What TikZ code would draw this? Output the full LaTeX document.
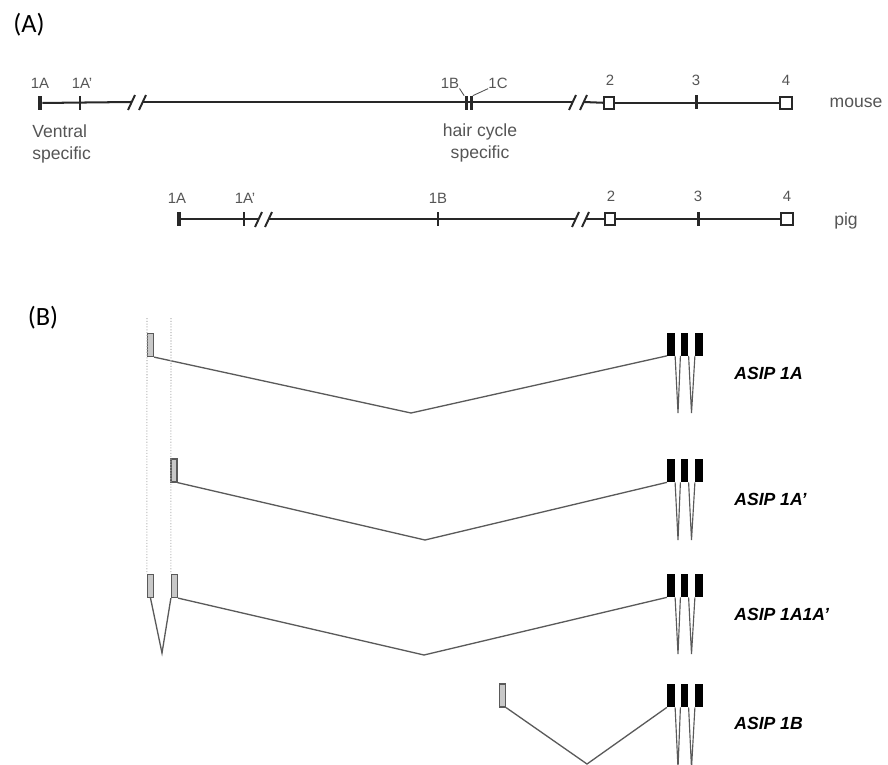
\documentclass[tikz,border=0pt]{standalone}
\usepackage{fontspec}
\setmainfont{Liberation Sans}
\newfontfamily\calibri{Carlito}
\usepackage{tikz}
\usetikzlibrary{positioning}
\definecolor{trackgray} {RGB}{ 40,  40,  40}
\definecolor{labelgray} {RGB}{ 85,  85,  85}
\definecolor{splicegray}{RGB}{ 90,  90,  90}
\definecolor{exonfill}  {RGB}{200, 200, 200}
\definecolor{dotgray}   {RGB}{185, 185, 185}

\begin{document}
\begin{tikzpicture}[x=0.02cm,y=-0.02cm,
  every node/.style={inner sep=0pt},
  panel/.style={font=\calibri\fontsize{15}{18}\selectfont},
  num/.style={text=labelgray,font=\fontsize{8.5}{10}\selectfont},
  note/.style={text=labelgray,font=\fontsize{10}{12.5}\selectfont,align=center},
  track/.style={draw=trackgray,line width=1.15pt},
  brk/.style={draw=trackgray,line width=1.1pt},
  tickx/.style={fill=trackgray,minimum width=0.045cm,minimum height=0.28cm},
  thickx/.style={fill=trackgray,minimum width=0.08cm,minimum height=0.28cm},
  boxx/.style={draw=trackgray,fill=white,line width=1.2pt,
               minimum width=0.19cm,minimum height=0.25cm},
  gexon/.style={draw=splicegray,fill=exonfill,line width=0.7pt,
                minimum width=0.12cm,minimum height=0.46cm},
  bexon/.style={fill=black,minimum width=0.15cm,minimum height=0.46cm},
  spl/.style={draw=splicegray,line width=0.75pt},
  vee/.style={draw=splicegray,line width=0.65pt},
  iso/.style={font=\bfseries\itshape\fontsize{10}{12}\selectfont,anchor=west},
]
\useasboundingbox (0,0) rectangle (888,764);
\clip (0,0) rectangle (888,764);

%% ---------------- (A) genomic structure ----------------
\node[panel] (pA) at (29,25) {(A)};

%% mouse track
\node[thickx] (m1A)  at (40,103) {};
\node[tickx]  (m1Ap) at (80,103) {};
\coordinate   (mb1a) at (131,102);
\coordinate   (mb1b) at (143,102);
\node[thickx,minimum width=0.06cm] (m1B) at (466,103) {};
\node[thickx,minimum width=0.06cm] (m1C) at (471,103) {};
\coordinate   (mb2a) at (572,102);
\coordinate   (mb2b) at (584,102);
\node[boxx]   (m2)   at (609,103) {};
\node[tickx,minimum width=0.06cm] (m3) at (696,102) {};
\node[boxx,minimum width=0.24cm,minimum height=0.25cm] (m4) at (786,103) {};

\draw[track] (m1A) -- (mb1a);
\draw[track] (mb1b) -- (mb2a);
\draw[track] (mb2b) -- (m2);
\draw[track] (m2) -- (m4);
\draw[brk] (mb1a) ++(-3,8) -- ++(7,-15);
\draw[brk] (mb1b) ++(-4,8) -- ++(7,-15);
\draw[brk] (mb2a) ++(-3,8) -- ++(7,-15);
\draw[brk] (mb2b) ++(-4,8) -- ++(7,-15);

\node[num] (lm1A)  at (40,83)  {1A};
\node[num] (lm1Ap) at (82,83)  {1A'};
\node[num] (lm1B)  at (450,83) {1B};
\node[num] (lm1C)  at (498,83) {1C};
\node[num] (lm2)   at (610,80) {2};
\node[num] (lm3)   at (696,80) {3};
\node[num] (lm4)   at (786,80) {4};
\draw[labelgray,line width=0.5pt] (lm1B.south east) -- (m1B.north west);
\draw[labelgray,line width=0.5pt] (lm1C.south west) -- (m1C.north east);

\node[note,align=left,anchor=west] (ventral) at (32,144) {Ventral\\specific};
\node[note] (hair) at (480,143) {hair cycle\\specific};
\node[note] (mouse) at (856,103) {mouse};

%% pig track
\node[thickx] (p1A)  at (179,219) {};
\node[tickx]  (p1Ap) at (244,219) {};
\coordinate   (pb1a) at (258,219);
\coordinate   (pb1b) at (269,219);
\node[tickx]  (p1B)  at (438,219) {};
\coordinate   (pb2a) at (575,219);
\coordinate   (pb2b) at (586,219);
\node[boxx]   (p2)   at (610,219) {};
\node[tickx,minimum width=0.06cm] (p3) at (698,219) {};
\node[boxx,minimum width=0.24cm,minimum height=0.25cm] (p4) at (787,219) {};

\draw[track] (p1A) -- (pb1a);
\draw[track] (pb1b) -- (pb2a);
\draw[track] (pb2b) -- (p2);
\draw[track] (p2) -- (p4);
\draw[brk] (pb1a) ++(-3,8) -- ++(7,-15);
\draw[brk] (pb1b) ++(-4,8) -- ++(7,-15);
\draw[brk] (pb2a) ++(-3,8) -- ++(7,-15);
\draw[brk] (pb2b) ++(-4,8) -- ++(7,-15);

\node[num] (lp1A)  at (177,198) {1A};
\node[num] (lp1Ap) at (245,198) {1A'};
\node[num] (lp1B)  at (438,198) {1B};
\node[num] (lp2)   at (611,196) {2};
\node[num] (lp3)   at (698,196) {3};
\node[num] (lp4)   at (787,196) {4};
\node[note] (pig) at (846,221) {pig};

%% ---------------- (B) transcripts ----------------
\node[panel] (pB) at (43,318) {(B)};

%% ASIP 1A
\node[gexon] (r1A)  at (150.5,345) {};
\node[bexon] (r1e1) at (671,344) {};
\node[bexon] (r1e2) at (684.5,344) {};
\node[bexon] (r1e3) at (699,344) {};
\coordinate (r1low) at (411,413);
\coordinate (r1v1)  at (678,413);
\coordinate (r1v2)  at (691.5,413);
\draw[spl] (r1A.south east) -- (r1low) -- (r1e1.south west);
\draw[vee] (r1e1.south east) -- (r1v1) -- (r1e2.south west);
\draw[vee] (r1e2.south east) -- (r1v2) -- (r1e3.south west);
\node[iso] (t1) at (734,373) {ASIP 1A};

%% ASIP 1A'
\node[gexon] (r2Ap) at (174,470.5) {};
\node[bexon] (r2e1) at (671,470.5) {};
\node[bexon] (r2e2) at (684.5,470.5) {};
\node[bexon] (r2e3) at (699,470.5) {};
\coordinate (r2low) at (425,540);
\coordinate (r2v1)  at (678,540);
\coordinate (r2v2)  at (691.5,540);
\draw[spl] (r2Ap.south east) -- (r2low) -- (r2e1.south west);
\draw[vee] (r2e1.south east) -- (r2v1) -- (r2e2.south west);
\draw[vee] (r2e2.south east) -- (r2v2) -- (r2e3.south west);
\node[iso] (t2) at (734,499) {ASIP 1A'};

%% ASIP 1A1A'
\node[gexon] (r3A)  at (150.5,586) {};
\node[gexon] (r3Ap) at (174.5,586) {};
\node[bexon] (r3e1) at (671,585.5) {};
\node[bexon] (r3e2) at (684.5,585.5) {};
\node[bexon] (r3e3) at (699,585.5) {};
\coordinate (r3fst) at (162,653);
\coordinate (r3low) at (424,655);
\coordinate (r3v1)  at (678,654);
\coordinate (r3v2)  at (691.5,654);
\draw[spl] (r3A.south) -- (r3fst) -- (r3Ap.south west);
\draw[spl] (r3Ap.south east) -- (r3low) -- (r3e1.south west);
\draw[vee] (r3e1.south east) -- (r3v1) -- (r3e2.south west);
\draw[vee] (r3e2.south east) -- (r3v2) -- (r3e3.south west);
\node[iso] (t3) at (734,614) {ASIP 1A1A'};

%% ASIP 1B
\node[gexon] (r4B)  at (502.5,695.5) {};
\node[bexon] (r4e1) at (671,695.5) {};
\node[bexon] (r4e2) at (684.5,695.5) {};
\node[bexon] (r4e3) at (699,695.5) {};
\coordinate (r4low) at (587,764);
\coordinate (r4v1)  at (678,768);
\coordinate (r4v2)  at (691.5,768);
\draw[spl] (r4B.south east) -- (r4low) -- (r4e1.south west);
\draw[vee] (r4e1.south east) -- (r4v1) -- (r4e2.south west);
\draw[vee] (r4e2.south east) -- (r4v2) -- (r4e3.south west);
\node[iso] (t4) at (734,723) {ASIP 1B};

%% dotted guides for exons 1A and 1A'
\coordinate (gA)  at (147,318);
\coordinate (gAp) at (171,318);
\draw[dotgray,densely dotted,line width=0.6pt] (gA) -- (r3A.north west);
\draw[dotgray,densely dotted,line width=0.6pt] (gAp) -- (r3Ap.north west);

\end{tikzpicture}
\end{document}
